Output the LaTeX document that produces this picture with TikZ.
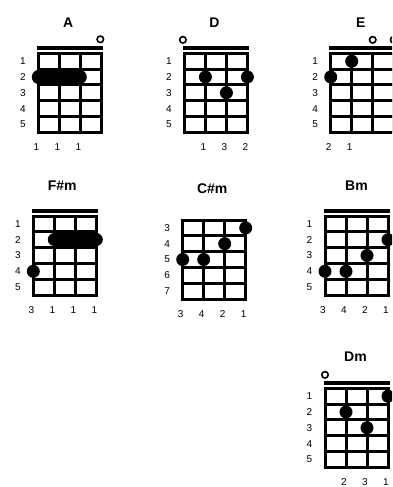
\documentclass[tikz,border=0pt]{standalone}
\usepackage{fontspec}
\setmainfont{Liberation Sans}
\newcommand\chordgrid[3]{% #1 name, #2 first fret label, #3 nut (1/0)
  \foreach \i in {0,...,3} \draw[gridline] (\i*21,0) -- (\i*21,79);
  \foreach \j in {0,...,5} \draw[gridline] (-1.5,\j*15.8) -- (64.5,\j*15.8);
  \foreach \j in {0,...,4} {
    \pgfmathtruncatemacro\lab{#2+\j}
    \node[fretnum] (#1-fret\j) at (-15.5,{(\j+0.5)*15.8}) {\lab};
  }
  \ifnum#3=1 \fill[nutbar] (-1.5,-7.5) rectangle (64.5,-3.5);\fi
}
\begin{document}
\begin{tikzpicture}[x=1pt,y=-1pt,
  gridline/.style={line width=3pt},
  nutbar/.style={fill=black},
  fingerdot/.style={circle,fill=black,minimum size=13pt,inner sep=0pt},
  opencirc/.style={circle,draw=black,line width=1.6pt,minimum size=6.5pt,inner sep=0pt},
  barre/.style={line width=13pt,line cap=round},
  title/.style={font=\bfseries\fontsize{14}{14}\selectfont},
  fretnum/.style={font=\fontsize{10}{10}\selectfont},
  fingernum/.style={font=\fontsize{10}{10}\selectfont},
]
\useasboundingbox (0,0) rectangle (392,487);
\clip (0,0) rectangle (392,487);

% ---------- A ----------
\begin{scope}[shift={(38.3,53.3)}]
  \chordgrid{A}{1}{1}
  \node[title] (A-title) at (30,-31) {A};
  \draw[barre] (0,23.7) -- (42,23.7);
  \node[opencirc] (A-open4) at (62,-14) {};
  \node[fingernum] (A-f1) at (-2,94) {1};
  \node[fingernum] (A-f2) at (19,94) {1};
  \node[fingernum] (A-f3) at (40,94) {1};
\end{scope}

% ---------- D ----------
\begin{scope}[shift={(184.4,53.3)}]
  \chordgrid{D}{1}{1}
  \node[title] (D-title) at (30,-31) {D};
  \node[opencirc] (D-open1) at (-1.5,-13.5) {};
  \node[fingerdot] (D-d2) at (21,23.7) {};
  \node[fingerdot] (D-d3) at (42,39.5) {};
  \node[fingerdot] (D-d4) at (63,23.7) {};
  \node[fingernum] (D-f2) at (19,94) {1};
  \node[fingernum] (D-f3) at (40,94) {3};
  \node[fingernum] (D-f4) at (61,94) {2};
\end{scope}

% ---------- E ----------
\begin{scope}[shift={(330.7,53.3)}]
  \chordgrid{E}{1}{1}
  \node[title] (E-title) at (30,-31) {E};
  \node[opencirc] (E-open3) at (42,-13.5) {};
  \node[opencirc] (E-open4) at (63,-13.5) {};
  \node[fingerdot] (E-d1) at (0,23.7) {};
  \node[fingerdot] (E-d2) at (21,7.9) {};
  \node[fingernum] (E-f1) at (-2,94) {2};
  \node[fingernum] (E-f2) at (19,94) {1};
\end{scope}

% ---------- F#m ----------
\begin{scope}[shift={(33.3,216)}]
  \chordgrid{Fsm}{1}{1}
  \node[title] (Fsm-title) at (29,-30) {F\#m};
  \draw[barre] (21,23.7) -- (63,23.7);
  \node[fingerdot] (Fsm-d1) at (0,55.3) {};
  \node[fingernum] (Fsm-f1) at (-2,94) {3};
  \node[fingernum] (Fsm-f2) at (19,94) {1};
  \node[fingernum] (Fsm-f3) at (40,94) {1};
  \node[fingernum] (Fsm-f4) at (61,94) {1};
\end{scope}

% ---------- C#m ----------
\begin{scope}[shift={(182.7,220)}]
  \chordgrid{Csm}{3}{0}
  \node[title] (Csm-title) at (29.5,-31) {C\#m};
  \node[fingerdot] (Csm-d4) at (63,7.9) {};
  \node[fingerdot] (Csm-d3) at (42,23.7) {};
  \node[fingerdot] (Csm-d1) at (0,39.5) {};
  \node[fingerdot] (Csm-d2) at (21,39.5) {};
  \node[fingernum] (Csm-f1) at (-2,94) {3};
  \node[fingernum] (Csm-f2) at (19,94) {4};
  \node[fingernum] (Csm-f3) at (40,94) {2};
  \node[fingernum] (Csm-f4) at (61,94) {1};
\end{scope}

% ---------- Bm ----------
\begin{scope}[shift={(325,216)}]
  \chordgrid{Bm}{1}{1}
  \node[title] (Bm-title) at (31.5,-30) {Bm};
  \node[fingerdot] (Bm-d4) at (63,23.7) {};
  \node[fingerdot] (Bm-d3) at (42,39.5) {};
  \node[fingerdot] (Bm-d1) at (0,55.3) {};
  \node[fingerdot] (Bm-d2) at (21,55.3) {};
  \node[fingernum] (Bm-f1) at (-2,94) {3};
  \node[fingernum] (Bm-f2) at (19,94) {4};
  \node[fingernum] (Bm-f3) at (40,94) {2};
  \node[fingernum] (Bm-f4) at (61,94) {1};
\end{scope}

% ---------- Dm ----------
\begin{scope}[shift={(325,388.3)}]
  \chordgrid{Dm}{1}{1}
  \node[title] (Dm-title) at (30.5,-31.5) {Dm};
  \node[opencirc] (Dm-open1) at (0,-13.5) {};
  \node[fingerdot] (Dm-d4) at (63,7.9) {};
  \node[fingerdot] (Dm-d2) at (21,23.7) {};
  \node[fingerdot] (Dm-d3) at (42,39.5) {};
  \node[fingernum] (Dm-f2) at (19,94) {2};
  \node[fingernum] (Dm-f3) at (40,94) {3};
  \node[fingernum] (Dm-f4) at (61,94) {1};
\end{scope}
\end{tikzpicture}
\end{document}
